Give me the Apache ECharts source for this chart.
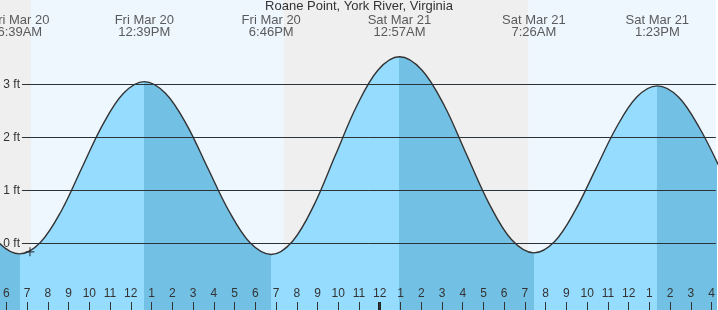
<!DOCTYPE html>
<html>
<head>
<meta charset="utf-8">
<script src="https://cdn.jsdelivr.net/npm/echarts@6/dist/echarts.min.js"></script>
<style>html,body{margin:0;padding:0;background:#fff}#c{width:718px;height:310px}</style>
</head>
<body>
<div id="c"></div>
<script>
// ---- data (hours counted from Fri Mar 20 00:00), heights ----
const titleText = 'Roane Point, York River, Virginia';
const tideHours = [4.65, 5.65, 6.65, 7.65, 8.65, 9.65, 10.65, 11.65, 12.65, 13.67, 14.69, 15.71, 16.73, 17.75, 18.77, 19.80, 20.83, 21.86, 22.89, 23.92, 24.95, 26.03, 27.11, 28.19, 29.27, 30.35, 31.43, 32.42, 33.41, 34.41, 35.40, 36.39, 37.38, 38.40, 39.41, 40.43];
const tideFeet  = [0.60, 0.01, -0.20, 0.02, 0.61, 1.43, 2.24, 2.83, 3.05, 2.83, 2.24, 1.42, 0.61, 0.01, -0.21, 0.04, 0.72, 1.66, 2.59, 3.27, 3.52, 3.27, 2.60, 1.67, 0.75, 0.07, -0.18, 0.03, 0.61, 1.40, 2.18, 2.76, 2.97, 2.76, 2.18, 1.39];
const extremeHours = [6.65, 12.65, 18.77, 24.95, 31.43, 37.38];
const extremeDays  = ['Fri Mar 20', 'Fri Mar 20', 'Fri Mar 20', 'Sat Mar 21', 'Sat Mar 21', 'Sat Mar 21'];
const extremeTimes = ['6:39AM', '12:39PM', '6:46PM', '12:57AM', '7:26AM', '1:23PM'];
const sunHours = [7.19, 19.38, 31.16];        // sunrise, sunset, sunrise
const footTicks = [0, 1, 2, 3];
const hourTicks = [];
for (let h = 6; h <= 40; h++) hourTicks.push(h);
const nowHour = 7.14, nowFeet = -0.16;
const midnightHour = 24;

// ---- layout ----
const X_MIN = 5.697, X_MAX = 40.20;
const Y_MIN = -1.2585, Y_MAX = 4.5906;
const GRID_START = 6.754;
const LABEL_FT = 4.10;
const DARK = '#72c1e5', LIGHT = '#96dcfe';
const NIGHT = '#efefef', DAY = '#eef6fe';
const FONT = 'Liberation Sans, Arial, sans-serif';

const tide = tideHours.map((h, i) => [h, tideFeet[i]]);

const pieces = [{ lt: extremeHours[0], color: DARK }];
for (let i = 0; i < extremeHours.length; i++) {
  const p = { gte: extremeHours[i], color: i % 2 === 0 ? LIGHT : DARK };
  if (i + 1 < extremeHours.length) p.lt = extremeHours[i + 1];
  pieces.push(p);
}

const bands = [
  [{ xAxis: X_MIN, itemStyle: { color: NIGHT } }, { xAxis: sunHours[0] }],
  [{ xAxis: sunHours[0], itemStyle: { color: DAY } }, { xAxis: sunHours[1] }],
  [{ xAxis: sunHours[1], itemStyle: { color: NIGHT } }, { xAxis: sunHours[2] }],
  [{ xAxis: sunHours[2], itemStyle: { color: DAY } }, { xAxis: X_MAX }]
];

const darkLines = footTicks.map(f => [
  { coord: [GRID_START, f], label: { formatter: f + ' ft' } },
  { coord: [X_MAX, f] }
]);
const faintLines = footTicks.map(f => [{ coord: [GRID_START, f] }, { coord: [X_MAX, f] }]);

const chart = echarts.init(document.getElementById('c'), null, { renderer: 'canvas' });
chart.setOption({
  animation: false,
  textStyle: { fontFamily: FONT },
  title: {
    text: titleText, left: 'center', top: 0, padding: 0,
    textStyle: { fontFamily: FONT, fontSize: 13, fontWeight: 'normal', color: '#333' }
  },
  grid: { left: 0, right: 0, top: 0, bottom: 0 },
  xAxis: {
    type: 'value', min: X_MIN, max: X_MAX, z: 10,
    axisLine: { show: false, onZero: false },
    splitLine: { show: false },
    axisTick: { show: true, inside: true, length: 8, customValues: hourTicks, lineStyle: { color: '#333', width: 1 } },
    axisLabel: {
      show: true, inside: true, margin: 10, customValues: hourTicks,
      fontFamily: FONT, fontSize: 12, color: '#333',
      formatter: v => { const h = Math.round(v) % 12; return String(h === 0 ? 12 : h); }
    }
  },
  yAxis: { type: 'value', min: Y_MIN, max: Y_MAX, show: false, splitLine: { show: false } },
  visualMap: { type: 'piecewise', show: false, dimension: 0, seriesIndex: 2, pieces: pieces },
  series: [
    { type: 'line', data: [], z: 0, silent: true,
      markArea: { silent: true, data: bands } },
    { type: 'line', data: [], z: 1, silent: true,
      markLine: { silent: true, symbol: 'none', animation: false,
        lineStyle: { color: '#333', width: 1, type: 'solid' },
        label: { position: 'start', distance: 2, fontFamily: FONT, fontSize: 12, color: '#333' },
        data: darkLines } },
    { type: 'line', data: tide, z: 2, smooth: 0.35, symbol: 'none', silent: true,
      lineStyle: { width: 0, opacity: 0 },
      areaStyle: { origin: 'start', opacity: 1 } },
    { type: 'line', data: [], z: 3, silent: true,
      markLine: { silent: true, symbol: 'none', animation: false,
        lineStyle: { color: 'rgba(0,60,100,0.12)', width: 1, type: 'solid' },
        label: { show: false }, data: faintLines } },
    { type: 'line', data: tide, z: 4, smooth: 0.35, symbol: 'none', silent: true,
      lineStyle: { color: '#333', width: 1.4 } },
    { type: 'scatter', z: 5, silent: true, symbolSize: 1, itemStyle: { color: 'rgba(0,0,0,0)' },
      data: extremeHours.map(h => [h, LABEL_FT]),
      label: { show: true, position: 'inside', fontFamily: FONT, fontSize: 13, lineHeight: 12, color: '#333', align: 'center',
        formatter: p => extremeDays[p.dataIndex] + '\n' + extremeTimes[p.dataIndex] } },
    { type: 'scatter', z: 6, silent: true, data: [[nowHour, nowFeet]],
      symbol: 'path://M0,5L10,5M5,0L5,10', symbolSize: 9,
      itemStyle: { color: 'none', borderColor: '#222', borderWidth: 1.2 } },
    { type: 'line', data: [], z: 6, silent: true,
      markLine: { silent: true, symbol: 'none', animation: false, label: { show: false },
        lineStyle: { color: '#222', width: 3, type: 'solid' },
        data: [[{ coord: [midnightHour, Y_MIN] }, { coord: [midnightHour, Y_MIN + 8 / 53] }]] } }
  ]
});
</script>
</body>
</html>
